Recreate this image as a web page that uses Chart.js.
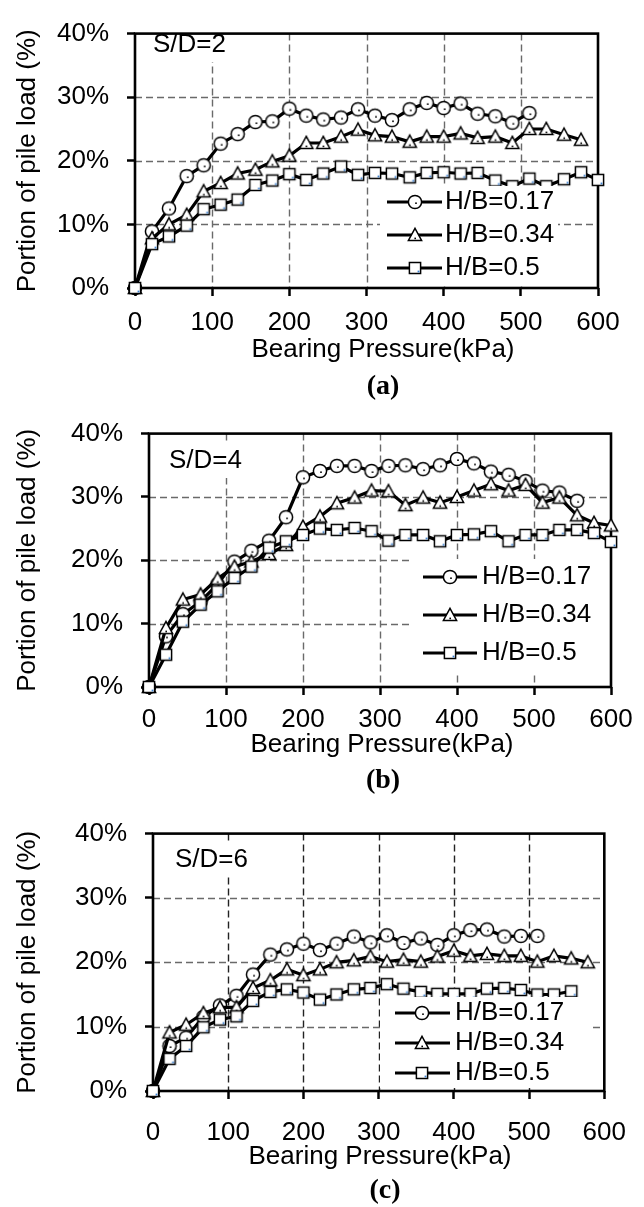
<!DOCTYPE html>
<html>
<head>
<meta charset="utf-8">
<script src="https://cdn.jsdelivr.net/npm/chart.js@4.4.1/dist/chart.umd.min.js"></script>
<style>
  body { margin: 0; background: #fff; }
  canvas.panel { position: absolute; left: 0; }
</style>
</head>
<body>
<canvas id="chartA" class="panel" width="644" height="400" style="top:0px"></canvas>
<canvas id="chartB" class="panel" width="644" height="400" style="top:400px"></canvas>
<canvas id="chartC" class="panel" width="644" height="407" style="top:800px"></canvas>
<script>
// bearing pressure steps (kPa) used by every test
const pressure = [0, 22, 44, 67, 89, 111, 133, 156, 178, 200, 222, 244, 267, 289, 311, 333, 356, 378, 400, 422, 444, 467, 489, 511, 533, 556, 578, 600];
const seriesNames = ['H/B=0.17', 'H/B=0.34', 'H/B=0.5'];
const spacingLabels = ['S/D=2', 'S/D=4', 'S/D=6'];
const captions = ['(a)', '(b)', '(c)'];
const xTickValues = [0, 100, 200, 300, 400, 500, 600];
const yTickValues = [0, 10, 20, 30, 40];
const yTickLabels = ['0%', '10%', '20%', '30%', '40%'];

// portion of pile load (%)
const sd2_hb017 = [0, 8.9, 12.5, 17.6, 19.3, 22.7, 24.2, 26.1, 26.2, 28.2, 27.1, 26.5, 26.8, 28.1, 27.1, 26.4, 28.1, 29.1, 28.3, 29.0, 27.4, 27.0, 26.0, 27.5];
const sd2_hb034 = [0, 7.8, 10.0, 11.5, 15.2, 16.5, 18.0, 18.6, 19.9, 20.8, 22.8, 22.8, 23.8, 24.9, 24.0, 23.8, 23.0, 23.8, 23.8, 24.3, 23.6, 23.8, 22.8, 25.0, 25.0, 24.1, 23.3];
const sd2_hb05 = [0, 6.9, 8.1, 9.8, 12.4, 13.1, 13.9, 16.2, 16.9, 17.9, 17.0, 18.0, 19.1, 17.8, 18.1, 18.0, 17.4, 18.1, 18.2, 18.0, 18.1, 16.9, 16.0, 17.2, 16.0, 17.1, 18.2, 17.0];

const sd4_hb017 = [0, 8.0, 11.5, 13.5, 16.2, 19.8, 21.5, 23.1, 26.8, 33.1, 34.1, 34.9, 34.9, 34.1, 34.9, 35.0, 34.4, 35.0, 36.0, 35.3, 34.0, 33.5, 32.5, 31.0, 30.7, 29.4];
const sd4_hb034 = [0, 9.3, 13.8, 14.6, 17.1, 19.0, 19.8, 21.0, 22.4, 25.3, 26.9, 29.0, 29.9, 31.0, 30.9, 28.7, 29.9, 29.1, 30.0, 31.0, 32.0, 31.0, 31.9, 29.1, 29.9, 27.1, 25.9, 25.5];
const sd4_hb05 = [0, 5.1, 10.3, 13.0, 15.1, 17.2, 19.0, 22.0, 23.0, 24.0, 25.0, 24.8, 25.1, 24.6, 23.1, 24.0, 24.0, 23.0, 24.0, 24.1, 24.6, 23.0, 24.0, 24.0, 24.8, 24.8, 24.3, 22.9];

const sd6_hb017 = [0, 7.0, 8.3, 11.5, 13.3, 14.8, 18.1, 21.2, 22.0, 22.9, 21.9, 22.9, 24.0, 23.1, 24.2, 23.0, 23.7, 22.7, 24.2, 25.0, 25.1, 24.0, 24.1, 24.1];
const sd6_hb034 = [0, 9.1, 10.3, 12.1, 13.0, 13.0, 16.0, 17.2, 18.9, 18.0, 18.9, 20.0, 20.3, 20.9, 20.1, 20.4, 20.1, 20.9, 21.8, 21.0, 21.3, 21.0, 21.0, 20.1, 21.0, 20.6, 20.0];
const sd6_hb05 = [0, 5.0, 7.0, 9.9, 11.1, 11.6, 14.0, 15.4, 15.8, 15.3, 14.2, 15.0, 15.8, 16.0, 16.6, 15.9, 15.4, 15.1, 15.1, 15.1, 15.9, 16.0, 15.7, 15.0, 15.0, 15.5];

const FONT = '"Liberation Sans", Arial, sans-serif';
const X_AXIS_H = 50;

// excel style markers, white filled with the little dot artefact
function makeMarker(kind) {
  const c = document.createElement('canvas');
  c.width = 18; c.height = 18;
  const g = c.getContext('2d');
  g.lineWidth = 1.5;
  g.strokeStyle = '#000';
  g.fillStyle = '#fff';
  g.beginPath();
  if (kind === 'circle') {
    g.arc(9, 9, 6.6, 0, Math.PI * 2);
  } else if (kind === 'triangle') {
    g.moveTo(9, 2.4); g.lineTo(15.6, 14.4); g.lineTo(2.4, 14.4); g.closePath();
  } else {
    g.rect(3.4, 3.4, 11.2, 11.2);
  }
  g.fill();
  g.stroke();
  if (kind === 'circle') { g.fillStyle = '#000'; g.fillRect(9.2, 9.4, 1.6, 1.6); }
  if (kind === 'triangle') { g.fillStyle = '#000'; g.fillRect(8.4, 11.6, 1.6, 1.6); }
  if (kind === 'square') { g.fillStyle = '#3b7fd0'; g.fillRect(11.6, 11.6, 1.8, 1.8); }
  return c;
}
const markers = [makeMarker('circle'), makeMarker('triangle'), makeMarker('square')];

// page coordinates of each panel
const panels = [
  { id: 'chartA', top: 0, height: 400,
    plot: { left: 135, right: 598, top: 20, bottom: 288 },
    series: [sd2_hb017, sd2_hb034, sd2_hb05],
    label: { x: 153, y: 45 },
    legend: { box: [380, 186, 178, 99], line: [387, 442], mark: 415, text: 445, rows: [202, 235, 268] },
    xTitle: [383, 350], caption: [383, 387], tickPad: 11, vGrid: '#6a6a6a' },
  { id: 'chartB', top: 400, height: 400,
    plot: { left: 149, right: 611, top: 421, bottom: 687 },
    series: [sd4_hb017, sd4_hb034, sd4_hb05],
    label: { x: 169, y: 461 },
    legend: { box: [412, 559, 197, 114], line: [423, 477], mark: 450, text: 482, rows: [577, 615, 653] },
    xTitle: [382, 745], caption: [383, 781], tickPad: 9, vGrid: '#6a6a6a' },
  { id: 'chartC', top: 800, height: 407,
    plot: { left: 153, right: 607, top: 829, bottom: 1091 },
    series: [sd6_hb017, sd6_hb034, sd6_hb05],
    label: { x: 175, y: 860 },
    legend: { box: [380, 997, 212, 91], line: [395, 450], mark: 422, text: 455, rows: [1013, 1043, 1073] },
    xTitle: [380, 1157], caption: [385, 1191], tickPad: 18, vGrid: '#222' }
];

const decor = {
  id: 'decor',
  beforeDatasetsDraw(chart, args, opts) {
    const p = panels[opts.idx];
    const a = chart.chartArea;
    const ctx = chart.ctx;
    const xs = chart.scales.x, ys = chart.scales.y;
    ctx.save();
    // dashed grid, inner lines only
    ctx.lineWidth = 1.4;
    ctx.setLineDash([7, 4]);
    ctx.strokeStyle = p.vGrid;
    ctx.beginPath();
    xTickValues.slice(1, -1).forEach(v => {
      const x = Math.round(xs.getPixelForValue(v)) + 0.5;
      ctx.moveTo(x, a.top);
      ctx.lineTo(x, a.bottom);
    });
    ctx.stroke();
    ctx.strokeStyle = '#6a6a6a';
    ctx.beginPath();
    yTickValues.slice(1, -1).forEach(v => {
      const y = Math.round(ys.getPixelForValue(v)) + 0.5;
      ctx.moveTo(a.left, y);
      ctx.lineTo(a.right, y);
    });
    ctx.stroke();
    ctx.setLineDash([]);
    // S/D text sits in a white box over the grid
    ctx.font = '26px ' + FONT;
    const txt = spacingLabels[opts.idx];
    const w = ctx.measureText(txt).width;
    const ly = p.label.y - p.top;
    ctx.fillStyle = '#fff';
    ctx.fillRect(p.label.x - 4, ly - 17, w + 8, 34);
    ctx.fillStyle = '#000';
    ctx.textBaseline = 'middle';
    ctx.fillText(txt, p.label.x, ly);
    // frame
    ctx.strokeStyle = '#000';
    ctx.lineWidth = 2.6;
    ctx.strokeRect(a.left, a.top, a.right - a.left, a.bottom - a.top);
    ctx.restore();
  },
  afterDatasetsDraw(chart, args, opts) {
    const p = panels[opts.idx];
    const L = p.legend;
    const ctx = chart.ctx;
    ctx.save();
    ctx.fillStyle = '#fff';
    ctx.fillRect(L.box[0], L.box[1] - p.top, L.box[2], L.box[3]);
    ctx.font = '26px ' + FONT;
    ctx.textBaseline = 'middle';
    seriesNames.forEach((name, i) => {
      const y = L.rows[i] - p.top;
      ctx.strokeStyle = '#000';
      ctx.lineWidth = 3.2;
      ctx.beginPath();
      ctx.moveTo(L.line[0], y);
      ctx.lineTo(L.line[1], y);
      ctx.stroke();
      ctx.drawImage(markers[i], L.mark - 9, y - 9);
      ctx.fillStyle = '#000';
      ctx.fillText(name, L.text, y);
    });
    ctx.restore();
  },
  afterDraw(chart, args, opts) {
    const p = panels[opts.idx];
    const a = chart.chartArea;
    const ctx = chart.ctx;
    ctx.save();
    ctx.fillStyle = '#000';
    ctx.textAlign = 'center';
    ctx.textBaseline = 'middle';
    ctx.font = '26px ' + FONT;
    ctx.fillText('Bearing Pressure(kPa)', p.xTitle[0], p.xTitle[1] - p.top);
    ctx.save();
    ctx.translate(28, (a.top + a.bottom) / 2);
    ctx.rotate(-Math.PI / 2);
    ctx.fillText('Portion of pile load (%)', 0, 0);
    ctx.restore();
    ctx.font = 'bold 28px "Liberation Serif", "Times New Roman", serif';
    ctx.fillText(captions[opts.idx], p.caption[0], p.caption[1] - p.top);
    ctx.restore();
  }
};

Chart.defaults.font.family = FONT;
Chart.defaults.font.size = 26;
Chart.defaults.color = '#000';

panels.forEach((p, idx) => {
  const datasets = p.series.map((vals, i) => ({
    label: seriesNames[i],
    data: vals.map((v, k) => ({ x: pressure[k], y: v })),
    borderColor: '#000',
    borderWidth: 3.2,
    pointStyle: markers[i],
    pointRadius: 6,
    pointHoverRadius: 6,
    tension: 0,
    clip: false,
    order: 3 - i
  }));

  // only the outside tick marks come from the scale grid
  const gridOpts = {
    drawOnChartArea: false,
    color: '#000',
    tickLength: 8,
    tickColor: '#000',
    tickWidth: 2.5
  };

  new Chart(document.getElementById(p.id), {
    type: 'line',
    data: { datasets },
    options: {
      responsive: false,
      animation: false,
      events: [],
      layout: {
        padding: {
          left: 0,
          right: 644 - p.plot.right,
          top: p.plot.top - p.top,
          bottom: p.height - (p.plot.bottom - p.top) - X_AXIS_H
        }
      },
      scales: {
        x: {
          type: 'linear',
          min: 0, max: 600,
          afterFit: s => { s.height = X_AXIS_H; },
          afterBuildTicks: s => { s.ticks = xTickValues.map(v => ({ value: v })); },
          ticks: { padding: p.tickPad, maxRotation: 0, autoSkip: false, callback: v => String(v) },
          grid: gridOpts,
          border: { display: false }
        },
        y: {
          min: 0, max: 40,
          afterFit: s => { s.width = p.plot.left; },
          afterBuildTicks: s => { s.ticks = yTickValues.map(v => ({ value: v })); },
          ticks: { padding: 18, autoSkip: false, callback: v => yTickLabels[yTickValues.indexOf(v)] },
          grid: gridOpts,
          border: { display: false }
        }
      },
      plugins: {
        legend: { display: false },
        tooltip: { enabled: false },
        decor: { idx }
      }
    },
    plugins: [decor]
  });
});
</script>
</body>
</html>
